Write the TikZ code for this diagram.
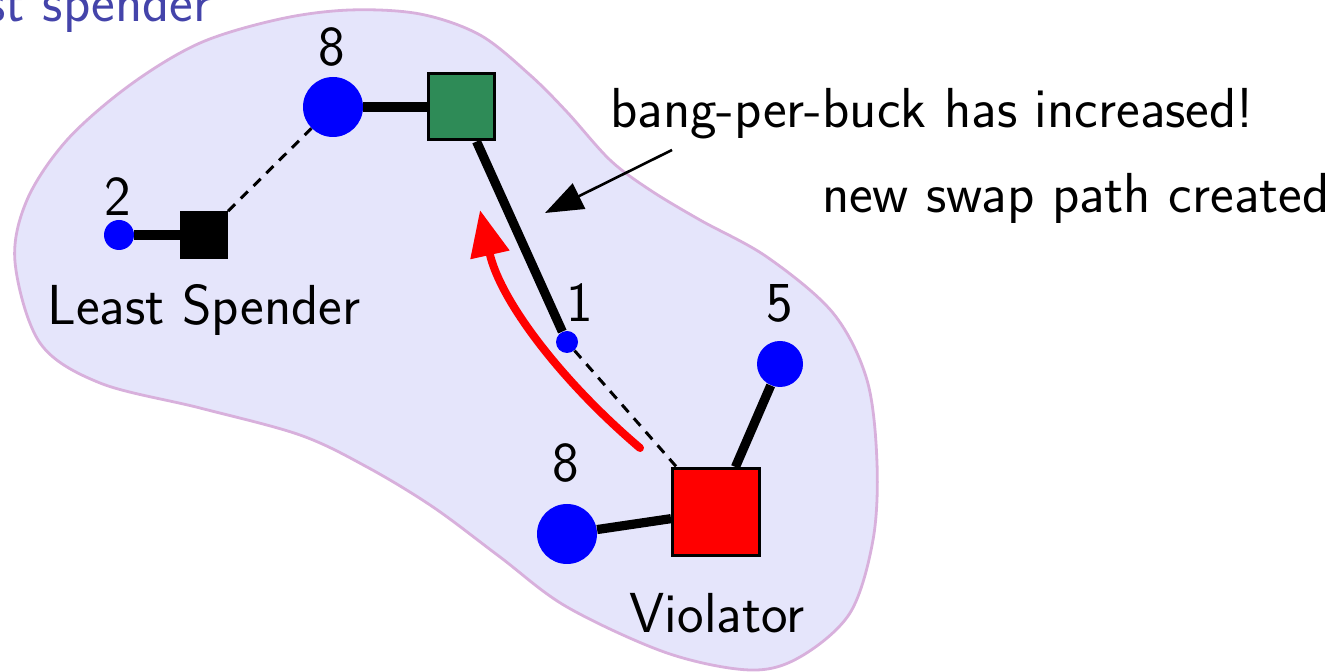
\documentclass[tikz,border=0pt]{standalone}
\usepackage{fontspec}
\usetikzlibrary{arrows.meta}
\definecolor{blobfill}{RGB}{229,229,251}
\definecolor{blobline}{RGB}{216,176,220}
\definecolor{sgreen}{RGB}{46,139,87}
\definecolor{spender}{RGB}{68,68,170}
\tikzset{
  txt/.style={font=\sffamily\fontsize{28.2}{32}\selectfont, inner sep=0pt},
  buyer/.style={circle, fill=blue, inner sep=0pt, minimum size=#1},
  good/.style={rectangle, draw=black, line width=1.5pt, fill=#1, inner sep=0pt},
  edge/.style={line width=4.6pt},
  dedge/.style={line width=1.5pt, dash pattern=on 5pt off 4pt},
}
\begin{document}
\begin{tikzpicture}[x=0.5pt,y=-0.5pt]
\useasboundingbox (0,0) rectangle (1344,672);
% blob
\draw[fill=blobfill, draw=blobline, line width=1.4pt]
  plot[smooth cycle, tension=0.55] coordinates {
  (15,262) (27,200) (67,140) (130,85) (200,43) (280,19) (350,10) (420,14) (480,35)
  (530,75) (567,112) (610,160) (650,190) (700,220) (767,257) (833,313) (867,380)
  (877,463) (873,540) (850,613) (800,657) (750,670) (667,653) (567,607) (500,557)
  (433,507) (367,467) (300,435) (200,408) (100,383) (40,343)};
% nodes
\node[buyer=30pt] (b8t) at (333,107) {};
\node[good=sgreen, minimum size=33pt] (g) at (461,107) {};
\node[buyer=15pt] (b2) at (119,235) {};
\node[good=black, minimum size=22.5pt] (k) at (204,235) {};
\node[buyer=11pt] (b1) at (567,342) {};
\node[buyer=23pt] (b5) at (780,364) {};
\node[buyer=30pt] (b8b) at (567,534) {};
\node[good=red, minimum size=43.5pt] (v) at (716,512) {};
% labels
\node[txt] (l8t) at (332,47) {8};
\node[txt] (l2) at (118,197) {2};
\node[txt] (l1) at (580,303) {1};
\node[txt] (l5) at (780,303) {5};
\node[txt] (l8b) at (566,463) {8};
\node[txt, anchor=base] (ls) at (204,325) {Least Spender};
\node[txt, anchor=base] (vl) at (717,633) {Violator};
\node[txt, anchor=base west] (bpb) at (610,128) {bang-per-buck has increased!};
\node[txt, anchor=base east] (nsp) at (1330,213) {new swap path created};
\node[txt, anchor=base east, text=spender] (lsp) at (212,22) {Least spender};
% edges
\draw[edge] (b8t) -- (g);
\draw[edge] (b2) -- (k);
\draw[edge] (g) -- (b1);
\draw[edge] (b5) -- (v);
\draw[edge] (b8b) -- (v);
\draw[dedge] (k) -- (b8t);
\draw[dedge] (b1) -- (v);
% arrows
\coordinate (rs) at (640,448);
\coordinate (re) at (480,210);
\draw[red, line width=4pt, line cap=round, -{Triangle[length=23pt,width=19pt]}]
  (rs) .. controls (560,380) and (500,300) .. (re);
\coordinate (as) at (672,150);
\coordinate (ae) at (545,213);
\draw[line width=1.3pt, -{Triangle[length=19pt,width=14pt]}] (as) -- (ae);
\end{tikzpicture}
\end{document}
